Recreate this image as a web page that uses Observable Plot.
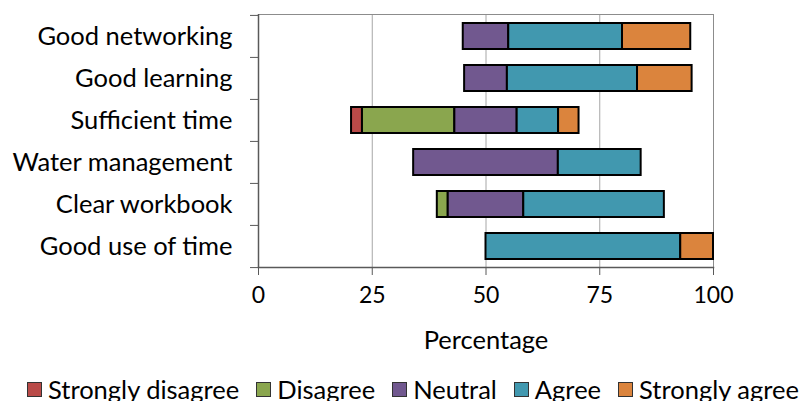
<!DOCTYPE html>
<html><head><meta charset="utf-8">
<script src="https://cdn.jsdelivr.net/npm/d3@7"></script>
<script src="https://cdn.jsdelivr.net/npm/@observablehq/plot@0.6"></script>
<style>
body{margin:0;background:#fff;font-family:Lato,sans-serif;}
#wrap{position:relative;width:809px;height:401px;overflow:hidden;background:#fff;}
#chart{position:absolute;left:0;top:0;}
#legend{position:absolute;left:27px;top:377px;display:flex;white-space:nowrap;font-size:25.5px;color:#000;line-height:1;}
.item{display:flex;align-items:center;margin-right:17px}
.sw{width:15px;height:15px;border:1px solid #333;margin-right:6px;box-sizing:border-box;}
</style></head><body><div id="wrap"><div id="chart"></div><div id="legend"></div></div>
<script>
const categories = ["Good networking","Good learning","Sufficient time","Water management","Clear workbook","Good use of time"];
const levels = ["Strongly disagree","Disagree","Neutral","Agree","Strongly agree"];
const colors = ["#b94a48","#8aa64e","#71588f","#4198af","#db843d"];
const stronglyDisagree = [0, 0, 2.4, 0, 0, 0];
const disagree         = [0, 0, 20.3, 0, 2.4, 0];
const neutral          = [10, 9.4, 13.7, 31.8, 16.6, 0];
const agree            = [25, 28.6, 9.1, 18.2, 30.9, 42.8];
const stronglyAgree    = [15, 12, 4.5, 0, 0, 7.2];
const xTicks = [0, 25, 50, 75, 100];
const xLabel = ["Percentage"];
const center = 50;

const series = [stronglyDisagree, disagree, neutral, agree, stronglyAgree];
const rows = [];
categories.forEach((c, i) => {
  let x = center - (series[0][i] + series[1][i] + series[2][i] / 2);
  levels.forEach((l, j) => {
    const v = series[j][i];
    if (v > 0) rows.push({category: c, level: l, x1: x, x2: x + v});
    x += v;
  });
});

const W = 809, H = 360, mt = 14, mb = H - 267, ml = 258, mr = 809 - 713;
const bw = (H - mt - mb) / categories.length;

const chart = Plot.plot({
  width: W, height: H,
  marginTop: mt, marginBottom: mb, marginLeft: ml, marginRight: mr,
  style: {fontFamily: "Lato, sans-serif", fontSize: "25.5px", color: "#000", background: "#fff"},
  x: {domain: [0, 100]},
  y: {domain: categories, padding: 0},
  color: {domain: levels, range: colors},
  marks: [
    Plot.gridX([25, 50, 75], {stroke: "#a6a6a6", strokeOpacity: 1}),
    Plot.frame({stroke: "#8c8c8c"}),
    Plot.barX(rows, {x1: "x1", x2: "x2", y: "category", fill: "level", stroke: "#000", strokeWidth: 2, insetTop: 8, insetBottom: 8}),
    Plot.axisX({ticks: xTicks, tickSize: 8, tickPadding: 11, stroke: "#595959", fontSize: 23, label: null}),
    Plot.text(xLabel, {text: d => d, frameAnchor: "bottom", lineAnchor: "bottom", dy: 81, fontSize: 25.5, fill: "#000"}),
    Plot.axisY({tickSize: 0, tickPadding: 26, label: null}),
    Plot.axisY({ticks: categories, tickSize: 8, tickFormat: () => "", dy: -bw / 2, stroke: "#595959", label: null}),
    Plot.axisY({ticks: [categories[categories.length - 1]], tickSize: 8, tickFormat: () => "", dy: bw / 2, stroke: "#595959", label: null}),
    Plot.ruleX([0], {stroke: "#595959", strokeWidth: 1.5}),
    Plot.frame({anchor: "bottom", stroke: "#595959", strokeWidth: 1.5})
  ]
});
document.getElementById("chart").appendChild(chart);

const legend = document.getElementById("legend");
levels.forEach((l, j) => {
  const it = document.createElement("div");
  it.className = "item";
  const sw = document.createElement("span");
  sw.className = "sw";
  sw.style.background = colors[j];
  const t = document.createElement("span");
  t.textContent = l;
  it.appendChild(sw); it.appendChild(t);
  legend.appendChild(it);
});
</script></body></html>
